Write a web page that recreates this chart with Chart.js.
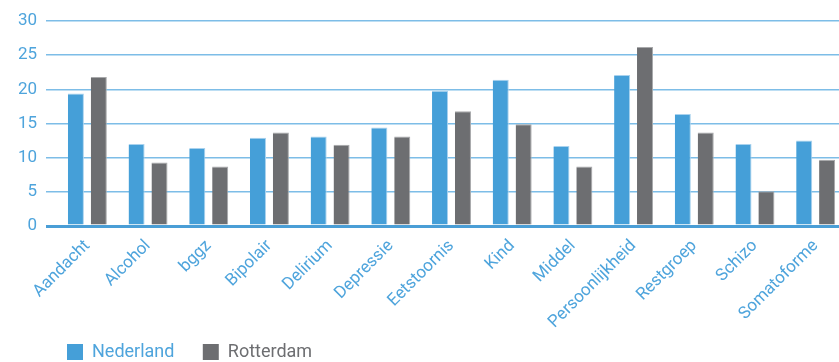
<!DOCTYPE html>
<html>
<head>
<meta charset="utf-8">
<script src="https://cdn.jsdelivr.net/npm/chart.js@4/dist/chart.umd.min.js"></script>
<style>
  html, body { margin: 0; padding: 0; background: #fff; overflow: hidden; }
  #wrap { width: 846px; height: 373px; }
</style>
</head>
<body>
<div id="wrap"><canvas id="chart"></canvas></div>
<script>
// data
const categories = ['Aandacht', 'Alcohol', 'bggz', 'Bipolair', 'Delirium', 'Depressie', 'Eetstoornis',
  'Kind', 'Middel', 'Persoonlijkheid', 'Restgroep', 'Schizo', 'Somatoforme'];
const nederland = [19.4, 12.0, 11.4, 12.9, 13.1, 14.4, 19.8, 21.4, 11.7, 22.1, 16.4, 12.0, 12.5];
const rotterdam = [21.8, 9.3, 8.7, 13.7, 11.9, 13.1, 16.8, 14.9, 8.7, 26.2, 13.7, 5.1, 9.7];
const yTicks = [0, 5, 10, 15, 20, 25, 30];

const BLUE = '#459fd8';
const GRAY = '#6d6e71';
const TEXT_BLUE = '#4ea4dc';

const ctx = document.getElementById('chart').getContext('2d');
new Chart(ctx, {
  type: 'bar',
  data: {
    labels: categories,
    datasets: [{
      label: 'Nederland',
      data: nederland,
      backgroundColor: BLUE,
      borderColor: '#a9d2ee',
      borderWidth: { top: 1, right: 1, left: 0, bottom: 0 },
      barPercentage: 0.7,
      categoryPercentage: 0.755
    }, {
      label: 'Rotterdam',
      data: rotterdam,
      backgroundColor: GRAY,
      borderColor: '#a8a9ab',
      borderWidth: { top: 1, right: 1, left: 0, bottom: 0 },
      barPercentage: 0.7,
      categoryPercentage: 0.755
    }]
  },
  options: {
    responsive: true,
    maintainAspectRatio: false,
    animation: false,
    layout: { padding: { top: 21, right: 0, bottom: 2, left: 0 } },
    plugins: {
      tooltip: { enabled: false },
      legend: {
        position: 'bottom',
        align: 'start',
        fullSize: false,
        labels: {
          boxWidth: 16,
          boxHeight: 16,
          padding: 10,
          font: { family: 'Roboto', size: 18 },
          generateLabels(chart) {
            return chart.data.datasets.map((ds, i) => ({
              // trailing spaces widen the gap between the two items
              text: ds.label + '\u2002\u2002',
              fillStyle: ds.backgroundColor,
              strokeStyle: ds.backgroundColor,
              lineWidth: 0,
              fontColor: i === 0 ? TEXT_BLUE : GRAY,
              hidden: false,
              datasetIndex: i
            }));
          }
        }
      }
    },
    scales: {
      x: {
        grid: { display: false },
        border: { display: false },
        ticks: {
          color: TEXT_BLUE,
          font: { family: 'Roboto', size: 17 },
          minRotation: 45,
          maxRotation: 45,
          padding: 2
        },
        afterFit(scale) { scale.height = 107; }
      },
      y: {
        min: 0,
        max: 30,
        afterBuildTicks(scale) { scale.ticks = yTicks.map(v => ({ value: v })); },
        border: { display: false },
        grid: {
          color: c => c.tick && c.tick.value === 0 ? '#4a9ed6' : '#7dbde7',
          lineWidth: c => c.tick && c.tick.value === 0 ? 3 : 1.5,
          drawTicks: true,
          tickLength: 11
        },
        ticks: {
          color: TEXT_BLUE,
          font: { family: 'Roboto', size: 17 },
          padding: 9
        },
        afterFit(scale) { scale.width = 57; }
      }
    }
  }
});
</script>
</body>
</html>
